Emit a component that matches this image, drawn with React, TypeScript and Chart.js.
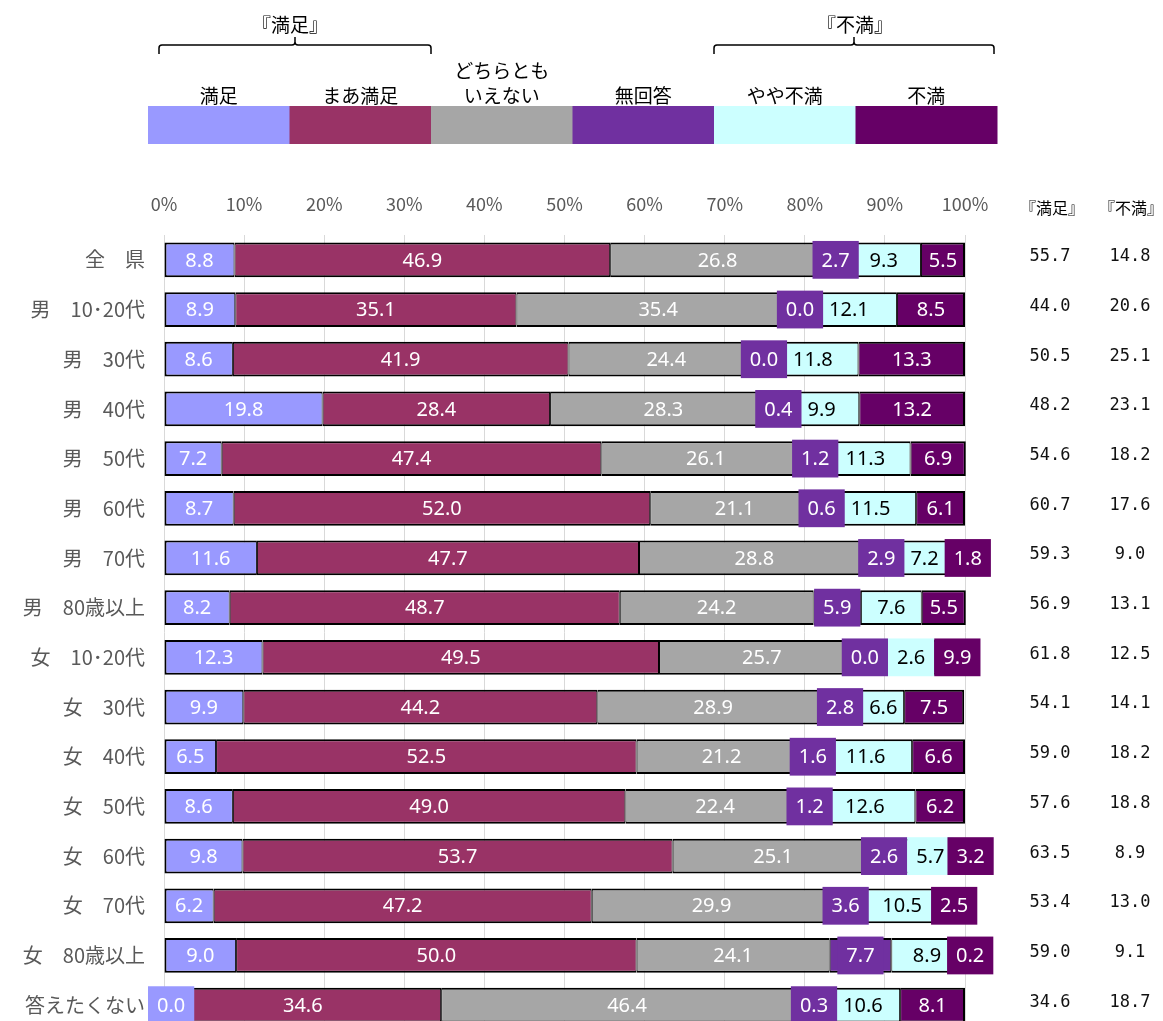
import React, { useEffect, useRef } from "react";
import { Chart, registerables } from "chart.js";

Chart.register(...registerables);

// ---------- data ----------
const categories = [
  "全　県",
  "男　10･20代",
  "男　30代",
  "男　40代",
  "男　50代",
  "男　60代",
  "男　70代",
  "男　80歳以上",
  "女　10･20代",
  "女　30代",
  "女　40代",
  "女　50代",
  "女　60代",
  "女　70代",
  "女　80歳以上",
  "答えたくない",
];

const seriesNames = ["満足", "まあ満足", "どちらとも\nいえない", "無回答", "やや不満", "不満"];
const seriesColors = ["#9999FF", "#993366", "#A6A6A6", "#7030A0", "#CCFFFF", "#660066"];

const manzoku = [8.8, 8.9, 8.6, 19.8, 7.2, 8.7, 11.6, 8.2, 12.3, 9.9, 6.5, 8.6, 9.8, 6.2, 9.0, 0.0];
const maaManzoku = [46.9, 35.1, 41.9, 28.4, 47.4, 52.0, 47.7, 48.7, 49.5, 44.2, 52.5, 49.0, 53.7, 47.2, 50.0, 34.6];
const dochiramo = [26.8, 35.4, 24.4, 28.3, 26.1, 21.1, 28.8, 24.2, 25.7, 28.9, 21.2, 22.4, 25.1, 29.9, 24.1, 46.4];
const mukaitou = [2.7, 0.0, 0.0, 0.4, 1.2, 0.6, 2.9, 5.9, 0.0, 2.8, 1.6, 1.2, 2.6, 3.6, 7.7, 0.3];
const yayaFuman = [9.3, 12.1, 11.8, 9.9, 11.3, 11.5, 7.2, 7.6, 2.6, 6.6, 11.6, 12.6, 5.7, 10.5, 8.9, 10.6];
const fuman = [5.5, 8.5, 13.3, 13.2, 6.9, 6.1, 1.8, 5.5, 9.9, 7.5, 6.6, 6.2, 3.2, 2.5, 0.2, 8.1];

const manzokuTotal = [55.7, 44.0, 50.5, 48.2, 54.6, 60.7, 59.3, 56.9, 61.8, 54.1, 59.0, 57.6, 63.5, 53.4, 59.0, 34.6];
const fumanTotal = [14.8, 20.6, 25.1, 23.1, 18.2, 17.6, 9.0, 13.1, 12.5, 14.1, 18.2, 18.8, 8.9, 13.0, 9.1, 18.7];

const xTicks = [0, 10, 20, 30, 40, 50, 60, 70, 80, 90, 100];
const groupTitles = ["『満足』", "『不満』"];
const columnHeaders = ["『満足』", "『不満』"];

const seriesValues = [manzoku, maaManzoku, dochiramo, mukaitou, yayaFuman, fuman];

const CJK = '"Noto Sans CJK JP", "Noto Sans", sans-serif';
const LATIN = '"Noto Sans", "Open Sans", sans-serif';

// ---------- plugins ----------
const segLabelPlugin = {
  id: "segLabels",
  afterDatasetsDraw(chart: any) {
    const ctx = chart.ctx as CanvasRenderingContext2D;
    const area = chart.chartArea;
    ctx.save();
    ctx.font = `20px ${LATIN}`;
    ctx.textBaseline = "middle";
    ctx.textAlign = "center";
    for (let i = 0; i < categories.length; i++) {
      const items: any[] = [];
      for (let j = 0; j < seriesValues.length; j++) {
        const el = chart.getDatasetMeta(j).data[i];
        const left = Math.min(el.base, el.x);
        const right = Math.max(el.base, el.x);
        const text = seriesValues[j][i].toFixed(1);
        const tw = ctx.measureText(text).width;
        const box = j === 3 || right - left < tw + 8;
        const w = box ? tw + 18 : tw + 12;
        items.push({ j, text, tw, left, right, y: el.y, h: el.height, box, w, L: (left + right) / 2 - w / 2 });
      }
      let prevR = area.left - 16;
      for (const it of items) {
        if (it.L < prevR) it.L = prevR;
        prevR = it.L + it.w;
      }
      for (const it of items) {
        if (!it.box) {
          const tl = it.L + (it.w - it.tw) / 2;
          if (tl < it.left + 1 || tl + it.tw > it.right - 1) {
            it.box = true;
            it.w = it.tw + 18;
          }
        }
        const cx = it.L + it.w / 2;
        if (it.box) {
          const bh = it.h + 3;
          ctx.fillStyle = seriesColors[it.j];
          ctx.fillRect(it.L, it.y - bh / 2, it.w, bh);
        }
        ctx.fillStyle = it.j === 4 ? "#000000" : "#FFFFFF";
        ctx.fillText(it.text, cx, it.y + 1);
      }
    }
    ctx.restore();
  },
};

const decorPlugin = {
  id: "decor",
  afterDraw(chart: any) {
    const ctx = chart.ctx as CanvasRenderingContext2D;
    ctx.save();
    // legend boxes
    const lx0 = 148;
    const lx1 = 997;
    const lw = (lx1 - lx0) / seriesNames.length;
    const ly0 = 106;
    const ly1 = 144;
    ctx.font = `19px ${CJK}`;
    ctx.textAlign = "center";
    ctx.textBaseline = "middle";
    for (let k = 0; k < seriesNames.length; k++) {
      ctx.fillStyle = seriesColors[k];
      ctx.fillRect(lx0 + k * lw, ly0, lw + 0.5, ly1 - ly0);
      ctx.fillStyle = "#000000";
      const lines = seriesNames[k].split("\n");
      const cx = lx0 + k * lw + lw / 2;
      for (let l = 0; l < lines.length; l++) {
        const y = 96 - (lines.length - 1 - l) * 25;
        ctx.fillText(lines[l], cx, y);
      }
    }
    // brackets
    const brackets = [
      { x0: 159, x1: 431, xc: 295, tx: 290, title: groupTitles[0] },
      { x0: 714, x1: 994, xc: 854, tx: 855, title: groupTitles[1] },
    ];
    ctx.strokeStyle = "#000000";
    ctx.lineWidth = 1.5;
    for (const b of brackets) {
      ctx.beginPath();
      ctx.moveTo(b.x0, 54);
      ctx.lineTo(b.x0, 48);
      ctx.quadraticCurveTo(b.x0, 45, b.x0 + 3, 45);
      ctx.lineTo(b.xc - 3, 45);
      ctx.quadraticCurveTo(b.xc, 45, b.xc, 42);
      ctx.lineTo(b.xc, 37);
      ctx.moveTo(b.xc, 42);
      ctx.quadraticCurveTo(b.xc, 45, b.xc + 3, 45);
      ctx.lineTo(b.x1 - 3, 45);
      ctx.quadraticCurveTo(b.x1, 45, b.x1, 48);
      ctx.lineTo(b.x1, 54);
      ctx.stroke();
      ctx.fillStyle = "#000000";
      ctx.font = `19px ${CJK}`;
      ctx.fillText(b.title, b.tx, 25);
    }
    // right columns
    const colX = [1052, 1131];
    ctx.font = `16px ${CJK}`;
    ctx.fillStyle = "#000000";
    ctx.fillText(columnHeaders[0], colX[0], 208);
    ctx.fillText(columnHeaders[1], colX[1], 208);
    ctx.font = `17px "DejaVu Sans Mono", monospace`;
    ctx.fillStyle = "#111111";
    const yScale = chart.scales.y;
    for (let i = 0; i < categories.length; i++) {
      const y = yScale.getPixelForValue(i);
      ctx.fillText(manzokuTotal[i].toFixed(1), colX[0] - 2, y - 3);
      ctx.fillText(fumanTotal[i].toFixed(1), colX[1] - 1, y - 3);
    }
    ctx.restore();
  },
};

export default function App() {
  const ref = useRef<HTMLCanvasElement | null>(null);
  useEffect(() => {
    document.body.style.margin = "0";
    const canvas = ref.current!;
    const chart = new Chart(canvas, {
      type: "bar",
      data: {
        labels: categories,
        datasets: seriesValues.map((vals, j) => ({
          label: seriesNames[j],
          data: vals,
          backgroundColor: seriesColors[j],
          borderColor: "#000000",
          borderWidth: { top: 2, bottom: 2, left: j === 0 ? 2 : 1, right: j === 5 ? 2 : 1 },
          borderSkipped: false,
          barPercentage: 0.7,
          categoryPercentage: 1.0,
          clip: false as any,
        })),
      },
      options: {
        indexAxis: "y",
        animation: false,
        responsive: false,
        devicePixelRatio: 1,
        layout: { padding: { left: 0, right: 198, top: 0, bottom: 10 } },
        plugins: {
          legend: { display: false },
          tooltip: { enabled: false },
          title: { display: false },
        },
        scales: {
          x: {
            type: "linear",
            position: "top",
            stacked: true,
            min: 0,
            max: 100,
            afterBuildTicks: (scale: any) => {
              scale.ticks = xTicks.map((v) => ({ value: v }));
            },
            afterFit: (scale: any) => {
              scale.height = 235;
            },
            ticks: {
              callback: (v: any) => `${v}%`,
              color: "#595959",
              font: { family: CJK, size: 18 },
              padding: 20,
              maxRotation: 0,
            },
            grid: { color: "#D9D9D9", lineWidth: 1, drawTicks: false },
            border: { display: false },
          },
          y: {
            type: "category",
            stacked: true,
            afterFit: (scale: any) => {
              scale.width = 164;
              scale.paddingTop = 0;
              scale.paddingBottom = 0;
            },
            ticks: {
              color: "#595959",
              font: { family: CJK, size: 20 },
              padding: 19,
            },
            grid: { display: false, drawTicks: false },
            border: { display: false },
          },
        },
      },
      plugins: [segLabelPlugin, decorPlugin],
    } as any);
    return () => chart.destroy();
  }, []);
  return (
    <div style={{ position: "relative", width: 1163, height: 1021, overflow: "hidden", background: "#FFFFFF" }}>
      <canvas ref={ref} width={1163} height={1040} style={{ display: "block", width: 1163, height: 1040 }} />
    </div>
  );
}
